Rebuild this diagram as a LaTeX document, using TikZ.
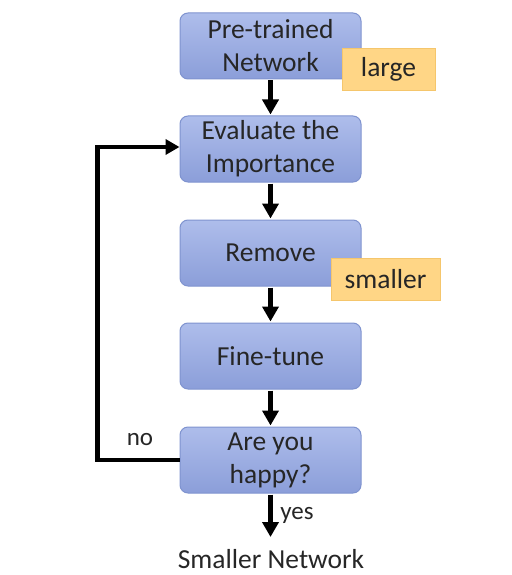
\documentclass[tikz,border=0pt]{standalone}
\usepackage{fontspec}
\setmainfont{Carlito}
\usetikzlibrary{arrows.meta}
\definecolor{boxtop}{HTML}{AEBDEB}
\definecolor{boxbot}{HTML}{8B9ED9}
\definecolor{boxline}{HTML}{7F93CF}
\definecolor{tagfill}{HTML}{FFD686}
\definecolor{tagline}{HTML}{F5C66C}
\begin{document}
\begin{tikzpicture}[x=1pt,y=-1pt,
  stepbox/.style={draw=boxline, line width=1pt, rounded corners=8pt, top color=boxtop, bottom color=boxbot,
    minimum width=181pt, minimum height=66pt, inner sep=0pt, align=center,
    font=\fontsize{27.5}{33}\selectfont, text=black!85},
  tagbox/.style={draw=tagline, line width=0.8pt, fill=tagfill, minimum height=42pt, inner sep=0pt,
    font=\fontsize{27.5}{33}\selectfont, text=black!85},
  flow/.style={line width=5pt, -{Triangle[length=15pt,width=16pt]}, shorten <=1pt, shorten >=1pt},
  lbl/.style={font=\fontsize{25}{30}\selectfont, text=black!85}]
\useasboundingbox (0,0) rectangle (511,575);
\node[stepbox] (b1) at (270.5,46) {Pre-trained\\Network};
\node[stepbox] (b2) at (270.5,149) {Evaluate the\\Importance};
\node[stepbox] (b3) at (270.5,253) {Remove};
\node[stepbox] (b4) at (270.5,356) {Fine-tune};
\node[stepbox] (b5) at (270.5,460) {Are you\\happy?};
\node[tagbox, minimum width=93pt] (t1) at (388.5,69) {large};
\node[tagbox, minimum width=109pt] (t2) at (385.5,279) {smaller};
\node[font=\fontsize{27.5}{33}\selectfont, text=black!85, anchor=base] (out) at (271,568) {Smaller Network};
\coordinate (c1) at (97.5,460);
\coordinate (c2) at (97.5,147);
\coordinate (yend) at (270.5,538);
\draw[flow] (b1) -- (b2);
\draw[flow] (b2) -- (b3);
\draw[flow] (b3) -- (b4);
\draw[flow] (b4) -- (b5);
\draw[flow] (b5.south) -- (yend) node[lbl, midway, right=4pt] (yes) {yes};
\draw[line width=4.5pt, -{Triangle[length=14pt,width=15pt]}] (b5.west) -- (c1) -- (c2) -- (b2.west |- c2);
\node[lbl] (no) at (140,440) {no};
\end{tikzpicture}
\end{document}
